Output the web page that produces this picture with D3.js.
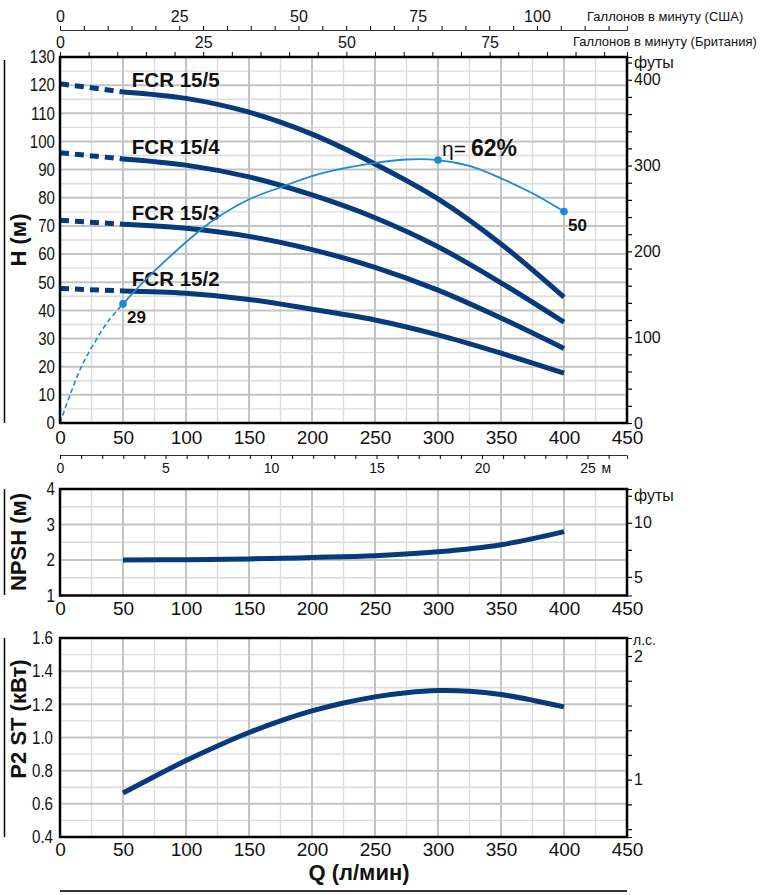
<!DOCTYPE html>
<html>
<head>
<meta charset="utf-8">
<script src="https://cdn.jsdelivr.net/npm/d3@7"></script>
<style>
  body { margin: 0; background: #fff; }
  svg { display: block; }
</style>
</head>
<body>
<div id="chart"></div>
<script>
// ---- data ----
const flowQ = [50, 100, 150, 200, 250, 300, 350, 400];
const pumpNames = ['FCR 15/5', 'FCR 15/4', 'FCR 15/3', 'FCR 15/2'];
const shutoffHead = [120.5, 96, 72, 47.8];
const headFcr155 = [117.6, 115.3, 110.4, 102.6, 92, 79.6, 63.6, 44.7];
const headFcr154 = [93.8, 91.6, 87.4, 81, 72.9, 62.6, 49.8, 35.8];
const headFcr153 = [70.6, 69.2, 66.3, 61.6, 55.3, 47.2, 37.3, 26.5];
const headFcr152 = [46.9, 46.1, 43.9, 40.4, 36.6, 31.3, 24.8, 17.7];

// efficiency curve, drawn on the head scale
const effDashedQ = [0, 8, 17, 28, 38, 50];
const effDashedH = [0, 10, 20, 29, 36, 42.3];
const effQ = [50, 60, 75, 110, 124, 149, 176, 206, 249, 275, 300, 325, 350, 375, 400];
const effH = [42.3, 47.2, 54, 68, 72.7, 79.2, 83.9, 88.5, 92.3, 93.6, 93.4, 91.3, 86.9, 81.6, 75.1];
const effMarkQ = [50, 300, 400];
const effMarkLabel = ['29', '62%', '50'];

const npshM = [2.0, 2.01, 2.03, 2.07, 2.12, 2.23, 2.43, 2.8];

const p2Q = [50, 75, 100, 125, 150, 175, 200, 225, 250, 275, 300, 325, 350, 375, 400];
const p2kW = [0.665, 0.765, 0.861, 0.949, 1.03, 1.1, 1.16, 1.208, 1.245, 1.27, 1.283, 1.279, 1.259, 1.225, 1.185];

// tick labels
const qTicks = [0, 50, 100, 150, 200, 250, 300, 350, 400, 450];
const headTicks = [0, 10, 20, 30, 40, 50, 60, 70, 80, 90, 100, 110, 120, 130];
const feetTicks = [0, 100, 200, 300, 400];
const usGalTicks = [0, 25, 50, 75, 100];
const ukGalTicks = [0, 25, 50, 75];
const metreTicks = [0, 5, 10, 15, 20, 25];
const npshTicks = [1, 2, 3, 4];
const npshFeetTicks = [5, 10];
const p2Ticks = [0.4, 0.6, 0.8, 1.0, 1.2, 1.4, 1.6];
const hpTicks = [1, 2];

// ---- layout ----
const FONT = "'Liberation Sans', Arial, sans-serif";
const W = 763, HT = 895;
const plotL = 60, plotR = 627;
const pumpColor = '#063a7a';
const effColor = '#1b8bd4';

const svg = d3.select('#chart').append('svg')
    .attr('width', W).attr('height', HT)
    .attr('font-family', FONT);

const x = d3.scaleLinear().domain([0, 450]).range([plotL, plotR]);

const yHead = d3.scaleLinear().domain([0, 130]).range([423, 57]);
const yFeet = d3.scaleLinear().domain([0, 130 * 3.28084]).range([423, 57]);
const yNpsh = d3.scaleLinear().domain([1, 4]).range([595.5, 489]);
const yNpshFt = d3.scaleLinear().domain([3.28084, 4 * 3.28084]).range([595.5, 489]);
const yP2 = d3.scaleLinear().domain([0.4, 1.6]).range([837, 638]);
const yHp = d3.scaleLinear().domain([0.4 / 0.7457, 1.6 / 0.7457]).range([837, 638]);

const xUsGal = d3.scaleLinear().domain([0, 450 / 3.78541]).range([plotL, plotR]);
const xUkGal = d3.scaleLinear().domain([0, 450 / 4.54609]).range([plotL, plotR]);
const xMetre = d3.scaleLinear().domain([0, 567 / 21.1]).range([plotL, plotR]);

function drawGrid(y, minor, major) {
    const g = svg.append('g');
    const [d0, d1] = y.domain();
    const n = Math.round((d1 - d0) / minor);
    const ratio = Math.round(major / minor);
    const hs = d3.range(1, n).map(i => ({ v: d0 + i * minor, major: i % ratio === 0 }));
    const vs = d3.range(1, 18).map(i => ({ v: i * 25, major: i % 2 === 0 }));
    const [yb, yt] = y.range();

    [false, true].forEach(isMajor => {
        g.selectAll(null).data(vs.filter(d => d.major === isMajor)).enter().append('line')
            .attr('x1', d => x(d.v)).attr('x2', d => x(d.v))
            .attr('y1', yt).attr('y2', yb)
            .attr('stroke', isMajor ? '#c4c4c4' : '#dcdcdc')
            .attr('stroke-width', isMajor ? 2 : 1.4);
        g.selectAll(null).data(hs.filter(d => d.major === isMajor)).enter().append('line')
            .attr('x1', plotL).attr('x2', plotR)
            .attr('y1', d => y(d.v)).attr('y2', d => y(d.v))
            .attr('stroke', isMajor ? '#c4c4c4' : '#dcdcdc')
            .attr('stroke-width', isMajor ? 2 : 1.4);
    });
}

function drawBorder(y) {
    const [yb, yt] = y.range();
    svg.append('rect')
        .attr('x', plotL).attr('y', yt)
        .attr('width', plotR - plotL).attr('height', yb - yt)
        .attr('fill', 'none').attr('stroke', '#000').attr('stroke-width', 2.5);
}

function leftAxis(y, ticks, fmt, pad) {
    const g = svg.append('g')
        .attr('transform', `translate(${plotL},0)`)
        .call(d3.axisLeft(y).tickValues(ticks).tickSize(0).tickPadding(0).tickFormat(fmt));
    g.attr('font-family', FONT);
    g.select('.domain').remove();
    g.selectAll('text')
        .attr('font-size', 18).attr('fill', '#111')
        .attr('x', -pad / 0.84)
        .attr('transform', 'scale(0.84,1)');
}

function bottomAxis(yPos, pad) {
    const g = svg.append('g')
        .attr('transform', `translate(0,${yPos})`)
        .call(d3.axisBottom(x).tickValues(qTicks).tickSize(0).tickPadding(pad));
    g.attr('font-family', FONT);
    g.select('.domain').remove();
    g.selectAll('text').attr('font-size', 19).attr('fill', '#111');
}

function rightAxis(y, ticks, labels, extra, extraLabel) {
    const g = svg.append('g')
        .attr('transform', `translate(${plotR},0)`)
        .call(d3.axisRight(y).tickValues(ticks).tickSize(5).tickPadding(2)
            .tickFormat(d => {
                if (labels.some(v => Math.abs(v - d) < 1e-6)) return d;
                if (extra !== null && Math.abs(extra - d) < 1e-6) return extraLabel;
                return '';
            }));
    g.attr('font-family', FONT);
    g.select('.domain').attr('stroke', '#000').attr('stroke-width', 1);
    g.selectAll('.tick line').attr('stroke', '#000').attr('stroke-width', 1.2);
    g.selectAll('text').attr('font-size', 16).attr('fill', '#111');
}

function rotatedTitle(text, cx, cy, lineTop, lineBottom) {
    svg.append('text')
        .attr('transform', `translate(${cx},${cy}) rotate(-90)`)
        .attr('text-anchor', 'middle')
        .attr('font-size', 22).attr('font-weight', 'bold').attr('fill', '#111')
        .text(text);
    svg.append('line')
        .attr('x1', 4.5).attr('x2', 4.5)
        .attr('y1', lineTop).attr('y2', lineBottom)
        .attr('stroke', '#000').attr('stroke-width', 1.5);
}

const smooth = (xs, ys, y, curve) => d3.line()
    .x(d => x(d[0])).y(d => y(d[1]))
    .curve(curve || d3.curveCatmullRom.alpha(0.5))(d3.zip(xs, ys));

// ---- top gallon scales ----
const usAxis = svg.append('g')
    .attr('transform', 'translate(0,30)')
    .call(d3.axisTop(xUsGal).tickValues(d3.range(0, 119, 5)).tickSize(4).tickPadding(4)
        .tickFormat(d => usGalTicks.includes(d) ? d : ''));
usAxis.attr('font-family', FONT);
usAxis.selectAll('text').attr('font-size', 16).attr('fill', '#111');
usAxis.select('.domain').attr('stroke', '#333');
svg.append('text').attr('x', 587).attr('y', 21).attr('font-size', 13).attr('fill', '#111')
    .text('Галлонов в минуту (США)');

const ukAxis = svg.append('g')
    .attr('transform', 'translate(0,57)')
    .call(d3.axisTop(xUkGal).tickValues(d3.range(0, 99, 5)).tickSize(5).tickPadding(4)
        .tickFormat(d => ukGalTicks.includes(d) ? d : ''));
ukAxis.attr('font-family', FONT);
ukAxis.selectAll('text').attr('font-size', 16).attr('fill', '#111');
svg.append('text').attr('x', 573).attr('y', 46).attr('font-size', 13).attr('fill', '#111')
    .text('Галлонов в минуту (Британия)');

// ---- head panel ----
drawGrid(yHead, 5, 10);

const headSeries = [headFcr155, headFcr154, headFcr153, headFcr152];
headSeries.forEach((heads, i) => {
    svg.append('path')
        .attr('d', smooth([0, flowQ[0]], [shutoffHead[i], heads[0]], yHead, d3.curveLinear))
        .attr('fill', 'none').attr('stroke', pumpColor).attr('stroke-width', 5)
        .attr('stroke-dasharray', '9,6');
    svg.append('path')
        .attr('d', smooth(flowQ, heads, yHead))
        .attr('fill', 'none').attr('stroke', pumpColor).attr('stroke-width', 5);
    svg.append('text')
        .attr('x', x(57)).attr('y', yHead(heads[0]) - 4.5)
        .attr('font-size', 20.5).attr('font-weight', 'bold').attr('fill', '#111')
        .text(pumpNames[i]);
});

svg.append('path')
    .attr('d', smooth(effDashedQ, effDashedH, yHead))
    .attr('fill', 'none').attr('stroke', effColor).attr('stroke-width', 1.6)
    .attr('stroke-dasharray', '5,3');
svg.append('path')
    .attr('d', smooth(effQ, effH, yHead))
    .attr('fill', 'none').attr('stroke', effColor).attr('stroke-width', 1.8);

effMarkQ.forEach((q, i) => {
    const h = effH[effQ.indexOf(q)];
    svg.append('circle').attr('cx', x(q)).attr('cy', yHead(h)).attr('r', 3.8).attr('fill', effColor);
    if (i === 1) {
        const t = svg.append('text').attr('x', x(q) + 4).attr('y', yHead(h) - 4).attr('fill', '#111');
        t.append('tspan').attr('font-size', 21).text('η=');
        t.append('tspan').attr('dx', 5).attr('font-size', 23).attr('font-weight', 'bold').text(effMarkLabel[i]);
    } else {
        svg.append('text').attr('x', x(q) + 4).attr('y', yHead(h) + 19)
            .attr('font-size', 17).attr('font-weight', 'bold').attr('fill', '#111')
            .text(effMarkLabel[i]);
    }
});

drawBorder(yHead);
leftAxis(yHead, headTicks, d => d, 5);
bottomAxis(423, 8);
rightAxis(yFeet, d3.range(0, 421, 20), feetTicks, 420, 'футы');
rotatedTitle('H (м)', 26, 240, 60, 423);

// ---- metre scale between panels ----
const mAxis = svg.append('g')
    .attr('transform', 'translate(0,455)')
    .call(d3.axisBottom(xMetre).tickValues(d3.range(0, 27, 1)).tickSize(4).tickPadding(4)
        .tickFormat(d => metreTicks.includes(d) ? d : ''));
mAxis.attr('font-family', FONT);
mAxis.select('.domain').attr('stroke', '#333');
mAxis.selectAll('text').attr('font-size', 14).attr('fill', '#111');
svg.append('text').attr('x', xMetre(25) + 14).attr('y', 473)
    .attr('font-size', 14).attr('fill', '#111').text('м');

// ---- NPSH panel ----
drawGrid(yNpsh, 0.5, 1);
svg.append('path')
    .attr('d', smooth(flowQ, npshM, yNpsh))
    .attr('fill', 'none').attr('stroke', pumpColor).attr('stroke-width', 5);
drawBorder(yNpsh);
leftAxis(yNpsh, npshTicks, d => d, 5);
bottomAxis(595.5, 6);
rightAxis(yNpshFt, [5, 7.5, 10, 12.5], npshFeetTicks, 12.5, 'футы');
rotatedTitle('NPSH (м)', 26, 542, 489, 595);

// ---- P2 panel ----
drawGrid(yP2, 0.1, 0.2);
svg.append('path')
    .attr('d', smooth(p2Q, p2kW, yP2))
    .attr('fill', 'none').attr('stroke', pumpColor).attr('stroke-width', 5);
drawBorder(yP2);
leftAxis(yP2, p2Ticks, d3.format('.1f'), 7);
bottomAxis(837, 6);
rightAxis(yHp, d3.range(0.6, 2.01, 0.2).map(v => +v.toFixed(1)), hpTicks, null, '');
svg.append('text').attr('x', 633).attr('y', 645).attr('font-size', 14).attr('fill', '#111').text('л.с.');
rotatedTitle('P2 ST (кВт)', 26, 719, 638, 837);

// ---- flow title ----
svg.append('text')
    .attr('x', 359).attr('y', 880).attr('text-anchor', 'middle')
    .attr('font-size', 22).attr('font-weight', 'bold').attr('fill', '#111')
    .text('Q (л/мин)');
svg.append('line')
    .attr('x1', plotL).attr('x2', plotR).attr('y1', 891).attr('y2', 891)
    .attr('stroke', '#333').attr('stroke-width', 2);
</script>
</body>
</html>
